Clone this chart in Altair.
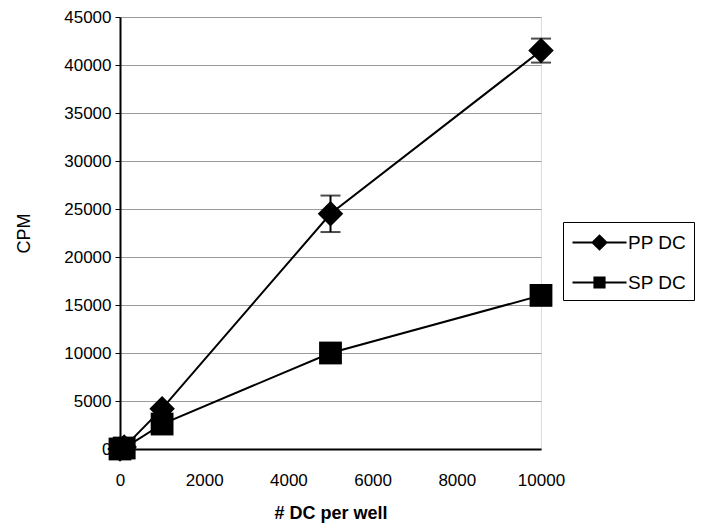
import altair as alt
import pandas as pd

# ---- data ----
cells = [0, 100, 1000, 5000, 10000]
pp_dc = [0, 200, 4200, 24500, 41500]
pp_err = [0, 0, 0, 1900, 1250]
sp_dc = [0, 100, 2600, 10000, 16000]
sp_err = [0, 0, 0, 0, 600]
series = ["PP DC", "SP DC"]
x_ticks = [0, 2000, 4000, 6000, 8000, 10000]
y_ticks = [0, 5000, 10000, 15000, 20000, 25000, 30000, 35000, 40000, 45000]

rows = []
for s, vals, errs in [("PP DC", pp_dc, pp_err), ("SP DC", sp_dc, sp_err)]:
    for x, v, e in zip(cells, vals, errs):
        rows.append({"series": s, "x": x, "y": v, "lo": v - e, "hi": v + e, "err": e})
df = pd.DataFrame(rows)

FONT = "Liberation Sans"

xs = alt.Scale(domain=[0, 10000], nice=False, zero=False)
ys = alt.Scale(domain=[0, 45000], nice=False)

X = alt.X("x:Q", scale=xs, axis=alt.Axis(
    values=x_ticks, format="d", title="# DC per well", grid=False, ticks=False,
    labelFont=FONT, labelFontSize=17, labelColor="black", labelFlush=False,
    labelPadding=23, titlePadding=16, titleFont=FONT, titleFontWeight="bold",
    titleFontSize=18, titleColor="black",
    domainColor="black", domainWidth=2))
Y = alt.Y("y:Q", scale=ys, axis=alt.Axis(
    values=y_ticks, format="d", title="CPM", grid=True, gridColor="#9a9a9a", gridWidth=1,
    tickSize=5, tickColor="black", labelPadding=4, titlePadding=30, labelFlush=False,
    labelFont=FONT, labelFontSize=17, labelColor="black",
    titleFont=FONT, titleFontWeight="normal", titleFontSize=18, titleColor="black",
    domainColor="black", domainWidth=2))

base = alt.Chart(df)

lines = base.mark_line(color="black", strokeWidth=2).encode(
    x=X, y=Y, detail="series:N")

err = base.transform_filter("datum.err > 0").mark_rule(color="black", strokeWidth=2).encode(
    x="x:Q", y="lo:Q", y2="hi:Q")
caps_lo = base.transform_filter("datum.err > 0").mark_tick(
    color="black", thickness=2, size=20, orient="horizontal").encode(x="x:Q", y="lo:Q")
caps_hi = base.transform_filter("datum.err > 0").mark_tick(
    color="black", thickness=2, size=20, orient="horizontal").encode(x="x:Q", y="hi:Q")

points = base.mark_point(filled=True, color="black", opacity=1).encode(
    x="x:Q", y="y:Q",
    shape=alt.Shape("series:N", scale=alt.Scale(domain=series, range=["diamond", "square"]),
                    legend=None),
    size=alt.Size("series:N", scale=alt.Scale(domain=series, range=[650, 520]), legend=None))

# legend-only layer: line segment with marker (filled paths)
line_seg = "M-2,-0.075L2,-0.075L2,0.075L-2,0.075Z"
pp_sym = line_seg + "M0,-0.62L0.62,0L0,0.62L-0.62,0Z"
sp_sym = line_seg + "M-0.45,-0.45L0.45,-0.45L0.45,0.45L-0.45,0.45Z"
legend_layer = base.transform_filter("datum.y < -1").mark_point(
    filled=True, color="black", opacity=1).encode(
    x="x:Q", y="y:Q",
    shape=alt.Shape("series:N", title=None,
        scale=alt.Scale(domain=series, range=[pp_sym, sp_sym]),
        legend=alt.Legend(orient="none", legendX=443, legendY=205,
                          strokeColor="black", padding=7, symbolSize=729,
                          symbolFillColor="black", symbolStrokeColor="black",
                          symbolStrokeWidth=0, labelFontSize=19, labelFont=FONT,
                          labelColor="black", rowPadding=16, symbolOffset=16,
                          labelOffset=15, symbolOpacity=1)))

chart = alt.layer(lines, err, caps_lo, caps_hi, points, legend_layer).resolve_scale(
    shape="independent").properties(
    width=421, height=432,
    autosize=alt.AutoSizeParams(type="none"),
    padding={"left": 112, "top": 9, "right": 171, "bottom": 74},
).configure_view(stroke="black", strokeWidth=2).configure(background="white")

chart.save("out.html", embed_options={"renderer": "svg", "actions": False})
